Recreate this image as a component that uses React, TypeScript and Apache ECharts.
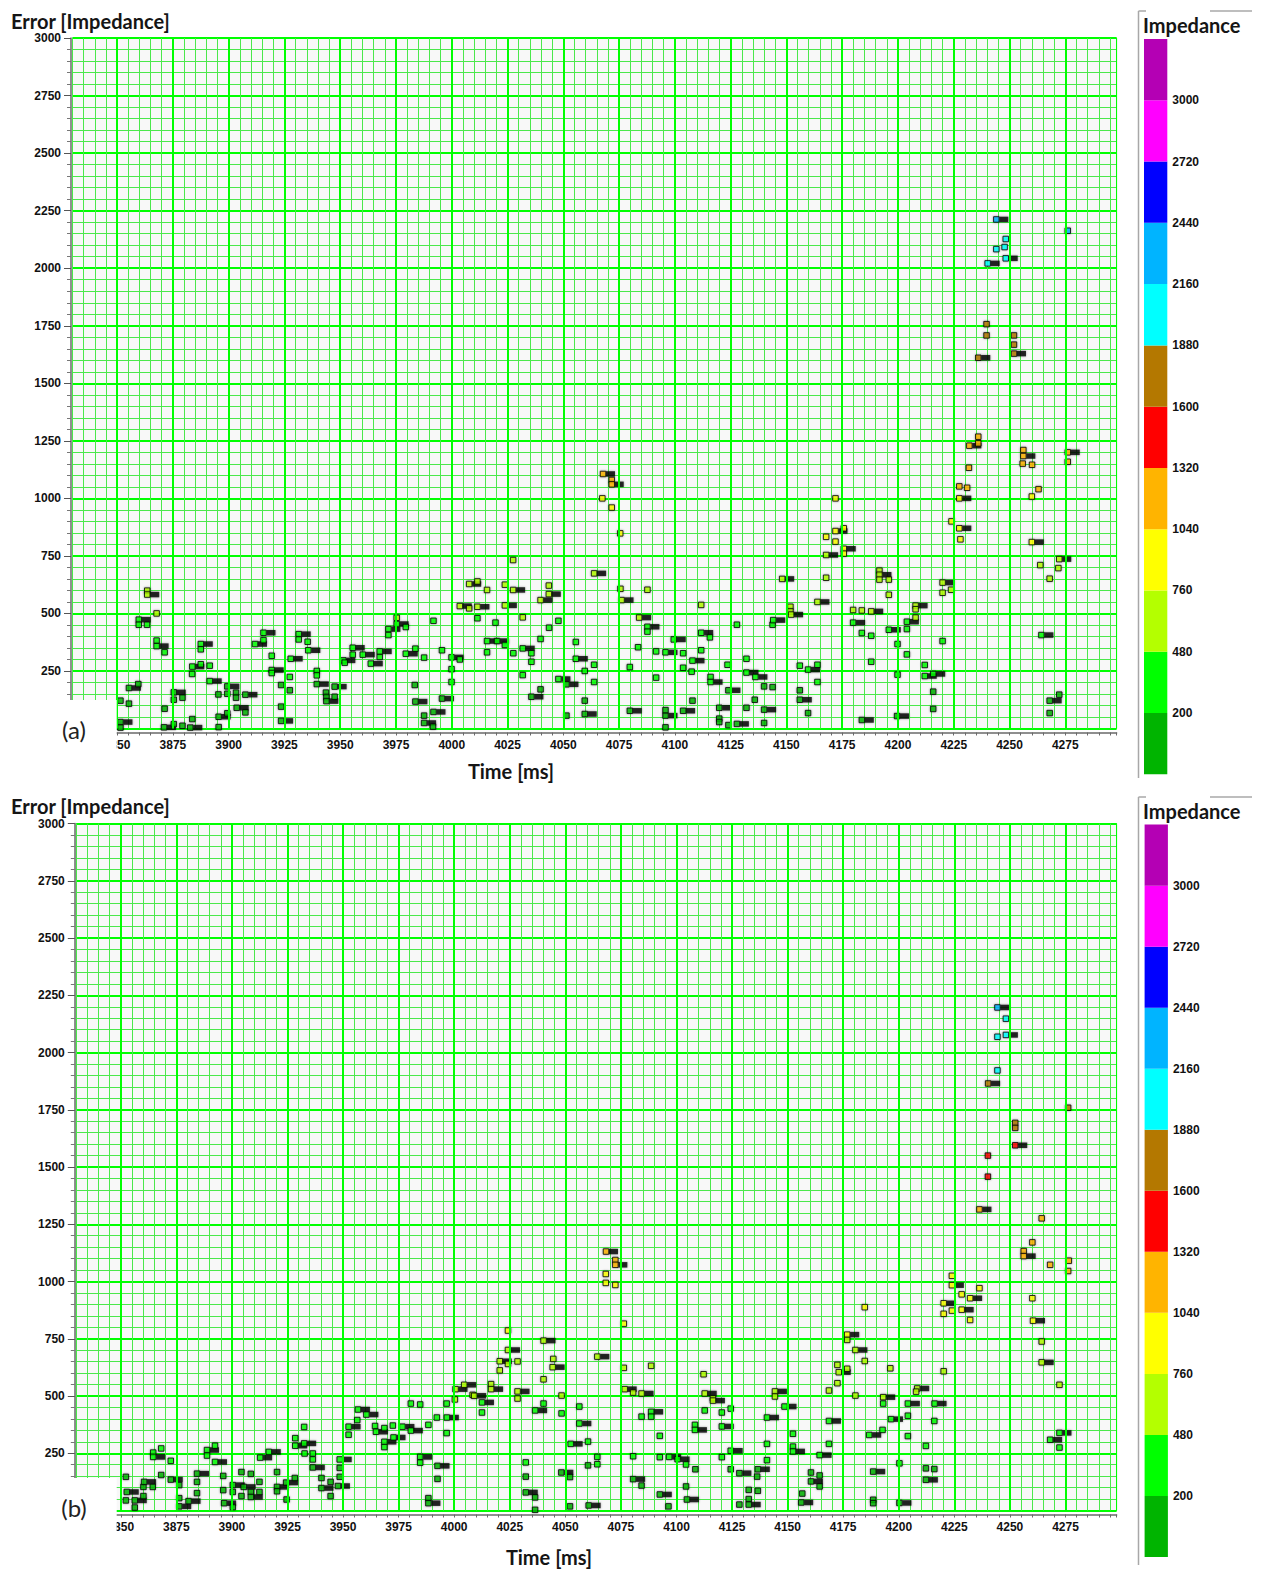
import React, { useEffect, useRef } from 'react';
import * as echarts from 'echarts';

// ---------- axis / legend definitions ----------
const TIME_MIN = 3830;
const TIME_MAX = 4298;
const majorTimeTicks = [3850, 3875, 3900, 3925, 3950, 3975, 4000, 4025, 4050, 4075, 4100, 4125, 4150, 4175, 4200, 4225, 4250, 4275];
const ERROR_MIN = 0;
const ERROR_MAX = 3000;
const colorBreaks = [200, 480, 760, 1040, 1320, 1600, 1880, 2160, 2440, 2720, 3000];
const colorbarMin = -80;
const colorbarMax = 3280;
const bandColors = ['#00b400', '#00ff00', '#b4ff00', '#ffff00', '#ffb400', '#ff0000', '#b47800', '#00ffff', '#00b4ff', '#0000ff', '#ff00ff', '#b400b4'];

// ---------- data: [time ms, error, flagged (black tag)] ----------
const errorA: [number, number, number][] = [
  [3863.5, 599, 0], [3863.5, 582, 1], [3867.7, 500, 0], [3859.7, 473, 1], [3859.7, 451, 0], [3863.4, 451, 0],
  [3867.7, 382, 0], [3867.7, 358, 1], [3871.3, 331, 0], [3915.6, 416, 1], [3911.8, 367, 1], [3915.6, 384, 0],
  [3931.4, 410, 1], [3931.4, 387, 0], [3935.4, 377, 0], [3935.7, 340, 1], [3887.5, 367, 1], [3887.5, 344, 0],
  [3883.7, 269, 1], [3887.5, 279, 0], [3891.5, 273, 0], [3883.6, 237, 0], [3919.3, 316, 0], [3927.8, 303, 1],
  [3919.3, 254, 1], [3919.3, 241, 0], [3923.5, 189, 0], [3927.4, 224, 0], [3927.4, 166, 0], [3923.5, 95, 0],
  [3923.5, 33, 1], [3891.5, 206, 1], [3895.4, 148, 0], [3899.4, 183, 1], [3899.4, 151, 0], [3903.3, 156, 0],
  [3903.3, 134, 0], [3907.5, 147, 1], [3903.6, 90, 1], [3907.5, 70, 0], [3899.4, 66, 0], [3895.5, 51, 1],
  [3895.5, 6, 0], [3875.4, 157, 1], [3879.3, 134, 0], [3875.4, 125, 0], [3871.3, 86, 0], [3883.7, 41, 0],
  [3875.4, 19, 0], [3871, 5, 1], [3879.3, 12, 0], [3882.8, 4, 1], [3855.3, 176, 1], [3859.5, 193, 0],
  [3851.5, 121, 0], [3855.3, 108, 0], [3851.5, 28, 1], [3851.5, 4, 0], [3939.5, 250, 0], [3939.5, 231, 0],
  [3939.5, 193, 1], [3943.6, 156, 0], [3947.5, 182, 1], [3943.8, 137, 0], [3943.8, 119, 1], [3947.5, 138, 0],
  [3951.4, 296, 1], [3952, 286, 0], [3955.6, 321, 0], [3955.6, 351, 1], [3960.1, 321, 1], [3963.7, 282, 1],
  [3967.7, 311, 0], [3967.7, 335, 1], [3971.6, 432, 1], [3971.6, 406, 0], [3975.3, 481, 0], [3975.3, 454, 1],
  [3979.4, 441, 0], [3979.4, 325, 1], [3983.7, 347, 0], [3987.6, 308, 0], [3983.4, 189, 0], [3983.7, 117, 1],
  [3987.6, 56, 0], [3987.6, 24, 1], [3991.8, 72, 1], [3995.6, 340, 0], [3995.6, 130, 1], [3991.8, 468, 0],
  [3991.6, 8, 0],
  [4067.8, 1106, 1], [4071.7, 1080, 0], [4071.7, 1061, 1], [4067.5, 1000, 0], [4071.7, 960, 0], [4075.5, 848, 0],
  [4027.5, 732, 0], [4063.8, 674, 1], [4007.8, 628, 1], [4011.5, 639, 0], [4015.8, 602, 0], [4023.8, 625, 0],
  [4027.5, 602, 1], [4043.5, 621, 0], [4043.5, 584, 1], [4039.8, 558, 1], [4003.6, 532, 1], [4007.8, 522, 0],
  [4011.5, 529, 1], [4023.8, 535, 1], [4011.5, 479, 0], [4031.8, 483, 0], [4019.6, 460, 0], [4047.8, 468, 0],
  [4043.6, 438, 0], [4015.8, 380, 1], [4020.3, 380, 1], [4023.8, 363, 0], [4015.8, 331, 0], [4027.6, 327, 0],
  [4031.8, 348, 1], [4035.7, 327, 0], [4035.7, 290, 0], [4031.8, 232, 0], [4039.8, 389, 0], [4055.6, 376, 0],
  [4055.6, 303, 1], [4059.6, 250, 0], [4063.8, 277, 0], [4063.8, 202, 0], [4047.8, 215, 1], [4051.4, 192, 1],
  [3999.9, 309, 1], [4003.6, 300, 0], [3999.9, 258, 0], [3999.9, 202, 0], [4035.7, 138, 1], [4039.8, 170, 0],
  [4059.6, 121, 0], [4051.4, 56, 0], [4059.6, 63, 1], [4079.8, 267, 0], [4079.8, 77, 1], [4075.6, 607, 0],
  [4076.1, 558, 1], [4087.7, 603, 0], [4084, 482, 1], [4087.7, 442, 1], [4087.7, 421, 0], [4083.5, 353, 0],
  [4091.6, 335, 0], [4095.8, 331, 1], [4099.5, 387, 1], [4103.7, 327, 0], [4107.9, 295, 1], [4103.7, 264, 0],
  [4107.5, 247, 0], [4091.6, 221, 0], [4107.9, 121, 0], [4103.7, 77, 1], [4095.8, 56, 1], [4095.8, 80, 0],
  [4095.8, 5, 0],
  [4172, 1000, 0], [4172, 858, 1], [4175.7, 870, 0], [4167.8, 833, 0], [4172, 812, 0], [4175.7, 781, 1],
  [4175.7, 760, 0], [4167.8, 754, 1], [4148.1, 650, 1], [4167.8, 655, 0], [4191.7, 686, 0], [4191.7, 668, 1],
  [4191.7, 647, 0], [4195.9, 647, 0], [4195.9, 581, 0], [4111.8, 537, 0], [4151.8, 529, 0], [4151.8, 509, 0],
  [4152.1, 495, 1], [4163.9, 550, 1], [4179.9, 515, 0], [4183.8, 513, 0], [4188, 509, 1], [4179.9, 460, 1],
  [4183.8, 415, 0], [4188, 403, 0], [4195.9, 429, 1], [4204, 464, 1], [4204, 432, 0], [4199.8, 367, 0],
  [4204, 322, 0], [4188, 290, 0], [4199.8, 234, 0], [4199.6, 54, 1], [4183.8, 37, 1], [4127.8, 451, 0],
  [4143.8, 451, 0], [4144.1, 471, 1], [4111.8, 416, 1], [4115.7, 396, 0], [4111.8, 340, 0], [4123.6, 277, 0],
  [4132.1, 303, 0], [4132.1, 243, 1], [4136.1, 224, 1], [4116, 224, 0], [4116, 202, 1], [4124, 166, 1],
  [4140, 183, 0], [4143.8, 180, 0], [4135.8, 125, 0], [4132.1, 90, 0], [4119.9, 90, 1], [4140, 82, 1],
  [4119.9, 43, 0], [4119.9, 28, 0], [4124, 15, 0], [4127.8, 20, 1], [4140, 24, 0], [4156, 273, 0],
  [4159.7, 256, 1], [4163.9, 277, 0], [4163.9, 202, 0], [4156, 166, 0], [4156, 125, 1], [4159.7, 67, 0],
  [4272.3, 736, 1], [4263.8, 710, 0], [4271.9, 697, 0], [4268, 651, 0], [4220, 634, 1], [4220, 590, 0],
  [4223.8, 603, 0], [4207.9, 534, 1], [4207.9, 518, 0], [4207.9, 482, 0], [4220, 380, 0], [4212, 276, 0],
  [4212, 228, 1], [4215.8, 237, 1], [4215.8, 160, 0], [4215.8, 85, 0], [4264.3, 406, 1], [4272.3, 147, 0],
  [4268, 121, 1], [4268, 67, 0],
  [4227.5, 1052, 0], [4231, 1046, 0], [4227.5, 1000, 1], [4224, 900, 0], [4227.5, 870, 1], [4228, 822, 0],
  [4263, 1040, 0], [4260, 1008, 0], [4260, 810, 1],
  [4244.1, 2212, 1], [4276.1, 2163, 0], [4248.3, 2127, 0], [4244.1, 2083, 0], [4247.8, 2092, 0], [4248.3, 2043, 1],
  [4240.2, 2021, 1], [4239.7, 1757, 0], [4239.7, 1708, 0], [4252, 1708, 0], [4252, 1668, 0], [4252, 1629, 1],
  [4236, 1611, 1], [4236, 1268, 0], [4236, 1239, 0], [4232, 1229, 1], [4231.8, 1133, 0], [4256.2, 1210, 0],
  [4256.2, 1184, 1], [4255.9, 1151, 0], [4260.1, 1146, 0], [4276.1, 1200, 1], [4276.1, 1159, 0],
];

const errorB: [number, number, number][] = [
  [3852.3, 147, 0], [3852.7, 81, 1], [3852.3, 44, 0], [3856.3, 44, 1], [3856.3, 13, 0], [3860.2, 103, 0],
  [3860.2, 63, 0], [3860.5, 125, 1], [3864.4, 103, 0], [3864.6, 253, 0], [3864.6, 234, 1], [3868.2, 271, 0],
  [3872.5, 217, 0], [3868.2, 155, 0], [3872.5, 135, 1], [3876.3, 111, 0], [3876.3, 54, 0], [3876.3, 18, 1],
  [3880.5, 41, 1], [3884.3, 161, 1], [3884.3, 125, 0], [3884.3, 76, 0], [3888.8, 264, 1], [3892.4, 283, 0],
  [3888.8, 240, 0], [3892.4, 212, 1], [3896.1, 151, 0], [3896.1, 89, 0], [3900.4, 111, 1], [3900.4, 81, 0],
  [3896.5, 32, 1], [3900.4, 15, 0], [3904.3, 168, 0], [3905.3, 103, 1], [3904.3, 63, 0], [3908.5, 160, 0],
  [3908.5, 81, 0], [3908.5, 59, 1], [3912.4, 125, 0], [3912.4, 81, 0], [3912.7, 231, 1], [3916.6, 256, 1],
  [3920.3, 168, 0], [3920.3, 103, 1], [3920.3, 84, 0], [3924.4, 122, 1], [3928.3, 142, 0], [3924.6, 48, 0],
  [3928.5, 316, 0], [3928.5, 283, 1], [3932.5, 365, 0], [3932.7, 249, 0], [3936.4, 249, 0], [3936.4, 223, 0],
  [3936.4, 188, 1], [3932.5, 293, 1], [3940.3, 142, 0], [3940.3, 98, 1], [3944.4, 125, 0], [3944.4, 63, 0],
  [3947.7, 107, 1], [3948.5, 223, 1], [3948.5, 186, 0], [3948.5, 147, 0], [3952.5, 366, 1], [3952.5, 331, 0],
  [3956.4, 395, 0], [3956.7, 441, 1], [3960.5, 419, 1], [3964.4, 369, 0], [3964.8, 344, 1], [3968.6, 360, 0],
  [3968.6, 300, 1], [3968.6, 277, 0], [3972.7, 319, 1], [3972.4, 371, 0], [3976.7, 366, 1], [3980.5, 349, 1],
  [3980.5, 467, 0], [3984.7, 463, 0], [3988.4, 374, 0], [3984.7, 234, 1], [3984.7, 209, 0], [3992.5, 195, 1],
  [3992.5, 138, 0], [3988.4, 54, 0], [3988.4, 32, 1], [3992.2, 406, 0], [3996.6, 467, 0], [3996.7, 406, 1],
  [3996.6, 338, 0], [4000.3, 485, 0], [4000.6, 530, 1], [4004.5, 549, 1], [4008.3, 505, 0], [4009, 501, 1],
  [4012.5, 472, 1], [4012.5, 428, 0], [4016.6, 552, 0], [4016.6, 530, 1], [4020.5, 652, 1], [4020.5, 612, 0],
  [4068.3, 1131, 1], [4072.5, 1094, 0], [4072.5, 1073, 1], [4068.2, 1033, 0], [4068.2, 994, 0], [4072.5, 985, 0],
  [4076.3, 816, 0], [4024.2, 786, 0], [4040.2, 742, 1], [4024.2, 701, 1], [4024.2, 640, 0], [4028.5, 651, 0],
  [4044.6, 662, 0], [4044.3, 626, 1], [4040.2, 573, 0], [4064.4, 672, 1], [4076.3, 623, 0], [4088.6, 632, 0],
  [4112.2, 595, 0], [4028.5, 520, 1], [4028.5, 489, 0], [4048.3, 502, 0], [4040.2, 467, 0], [4036.4, 437, 1],
  [4048.3, 424, 0], [4056.3, 454, 0], [4056.3, 380, 1], [4076.7, 530, 1], [4080.5, 515, 0], [4084.3, 511, 1],
  [4088.6, 431, 1], [4084.3, 410, 0], [4088.6, 410, 0], [4112.7, 511, 1], [4116.4, 490, 0], [4116.4, 480, 1],
  [4112.7, 437, 0], [4120.4, 428, 0], [4124.4, 445, 0], [4108.3, 374, 0], [4108.3, 352, 1], [4120.4, 367, 1],
  [4144.3, 520, 1], [4144.3, 498, 0], [4148.6, 454, 1], [4140.7, 406, 1], [4152.4, 335, 0], [4168.6, 391, 1],
  [4176.8, 768, 1], [4176.8, 745, 0], [4180.5, 701, 1], [4184.7, 888, 0], [4184.7, 653, 0], [4172.4, 636, 0],
  [4173, 604, 1], [4176.8, 619, 0], [4172.4, 556, 0], [4168.6, 524, 0], [4180.5, 502, 0], [4193, 495, 1],
  [4193, 467, 0], [4196.5, 399, 1], [4192.7, 352, 0], [4186.7, 330, 1], [4168.6, 291, 0], [4196.2, 621, 0],
  [4052.4, 291, 1], [4060.2, 301, 0], [4032.2, 210, 0], [4032.2, 148, 0], [4064.4, 234, 0], [4060.2, 197, 0],
  [4064.4, 202, 0], [4080.5, 237, 0], [4092.5, 326, 0], [4092.5, 233, 0], [4096.7, 234, 1], [4100.5, 224, 1],
  [4104.3, 201, 0], [4108.5, 180, 0], [4104.3, 105, 0], [4120.4, 233, 0], [4124.4, 261, 1], [4124.4, 180, 0],
  [4128.3, 163, 1], [4136.6, 180, 1], [4136.3, 148, 0], [4140.7, 291, 0], [4140.7, 220, 0], [4132.5, 90, 0],
  [4136.6, 86, 0], [4132.5, 50, 0], [4132.5, 26, 1], [4128.3, 26, 0], [4152.4, 279, 0], [4152.4, 258, 1],
  [4164.4, 242, 1], [4160.5, 166, 0], [4164.4, 153, 0], [4160.5, 127, 1], [4164.4, 105, 0], [4156.6, 74, 0],
  [4156.1, 35, 1], [4188.5, 170, 1], [4188.5, 47, 0], [4188.5, 32, 0], [4048.2, 166, 1], [4052.1, 146, 0],
  [4080.5, 137, 1], [4084.3, 109, 0], [4092.5, 70, 1], [4104.7, 48, 1], [4096.4, 18, 0], [4060.5, 22, 1],
  [4052.1, 18, 0], [4032.2, 79, 1], [4036.4, 57, 0], [4036.4, 3, 0],
  [4244.4, 2197, 1], [4248.2, 2148, 0], [4244.4, 2069, 0], [4248.2, 2077, 1], [4244.4, 1922, 0], [4240.2, 1865, 1],
  [4276.2, 1759, 0], [4252.4, 1693, 0], [4252.4, 1671, 0], [4252.4, 1595, 1], [4240.1, 1550, 0], [4240.1, 1458, 0],
  [4236.3, 1315, 1], [4264.3, 1276, 0], [4260.1, 1171, 0], [4256.2, 1133, 0], [4256.2, 1111, 1], [4268.1, 1073, 0],
  [4276.5, 1091, 0], [4276.2, 1046, 0], [4223.9, 1025, 0], [4223.9, 984, 1], [4236.3, 971, 0], [4228.3, 944, 0],
  [4232.1, 927, 1], [4220.2, 905, 1], [4220.2, 859, 0], [4223.9, 873, 0], [4228.3, 877, 1], [4232.1, 832, 0],
  [4260.1, 927, 0], [4260.4, 829, 1], [4264.3, 738, 0], [4264.3, 647, 1], [4272.3, 549, 0], [4220.2, 608, 0],
  [4208.3, 533, 1], [4207.8, 519, 0], [4204.1, 467, 1], [4216.1, 467, 1], [4204.1, 414, 0], [4216, 391, 0],
  [4204.1, 325, 0], [4212.2, 282, 0], [4200.3, 206, 0], [4212.2, 184, 0], [4216, 181, 0], [4212.2, 134, 1],
  [4200.3, 33, 1], [4272.3, 339, 1], [4268.1, 309, 1], [4272.3, 275, 0],
];

// ---------- layout (pixels) ----------
const FONT_NUM = '"Liberation Sans", Arial, sans-serif';
const FONT_TITLE = 'Lato, "Noto Sans", sans-serif';

const panels = [
  {
    data: errorA, tag: '(a)',
    grid: { left: 72.5, top: 38.1, width: 1044.1, height: 690.4 },
    bar: { left: 1144, top: 39, width: 23.3, height: 735.3 },
    titleY: 20.5, timeX: 511, timeY: 770.5, tagY: 729, box: [0, 700, 116.7, 62],
    legendTitleY: 25, frameTop: 11, frameBottom: 778,
  },
  {
    data: errorB, tag: '(b)',
    grid: { left: 76.3, top: 823.6, width: 1040.3, height: 686.9 },
    bar: { left: 1144.6, top: 824.6, width: 23.3, height: 732.4 },
    titleY: 806, timeX: 549, timeY: 1557, tagY: 1507, box: [0, 1478, 116.7, 62],
    legendTitleY: 810.5, frameTop: 797, frameBottom: 1565,
  },
];

function buildOption() {
  const grid: any[] = [];
  const xAxis: any[] = [];
  const yAxis: any[] = [];
  const series: any[] = [];
  const graphic: any[] = [];
  const pointSeries: number[] = [];

  panels.forEach((p) => {
    const g = grid.length;
    const xi = xAxis.length;
    const yi = yAxis.length;
    grid.push({ ...p.grid, show: true, backgroundColor: '#f8f8f8', borderColor: '#22ee22', borderWidth: 1 });
    xAxis.push({
      type: 'value', gridIndex: g, min: TIME_MIN, max: TIME_MAX, interval: 5, offset: 4,
      axisLine: { show: true, onZero: false, lineStyle: { color: '#6a6a6a', width: 1.5 } },
      axisTick: { show: true, length: 3, lineStyle: { color: '#6a6a6a', width: 1 } },
      axisLabel: {
        formatter: (v: number) => (majorTimeTicks.indexOf(v) >= 0 ? String(v) : ''),
        margin: 6, fontSize: 12, fontWeight: 'bold', color: '#111', fontFamily: FONT_NUM,
      },
      splitLine: { show: true, lineStyle: { color: ['#4be84b', '#4be84b', '#4be84b', '#4be84b', '#00ff00'], width: 1 } },
    });
    yAxis.push({
      type: 'value', gridIndex: g, min: ERROR_MIN, max: ERROR_MAX, interval: 250, offset: 1.5,
      axisLine: { show: true, onZero: false, lineStyle: { color: '#6a6a6a', width: 1.5 } },
      axisTick: { show: true, length: 7, lineStyle: { color: '#555', width: 1 } },
      minorTick: { show: true, splitNumber: 5, length: 4, lineStyle: { color: '#777', width: 1 } },
      axisLabel: { formatter: (v: number) => (v > ERROR_MIN ? String(v) : ''), margin: 10, fontSize: 12, fontWeight: 'bold', color: '#111', fontFamily: FONT_NUM },
      splitLine: { show: true, lineStyle: { color: '#00ff00', width: 2 } },
      minorSplitLine: { show: true, lineStyle: { color: '#4be84b', width: 1 } },
    });

    // major vertical grid lines
    series.push({
      type: 'line', xAxisIndex: xi, yAxisIndex: yi, data: [], z: 1, silent: true,
      markLine: {
        silent: true, symbol: ['none', 'none'], animation: false, label: { show: false },
        lineStyle: { color: '#00ff00', width: 2, type: 'solid' }, emphasis: { disabled: true },
        data: majorTimeTicks.map((v) => ({ xAxis: v })),
      },
    });
    // black tags beside flagged points
    series.push({
      type: 'scatter', xAxisIndex: xi, yAxisIndex: yi, z: 3, silent: true,
      data: p.data.filter((d) => d[2] === 1).map((d) => [d[0], d[1]]),
      symbol: 'rect', symbolSize: [9, 5.5], symbolOffset: [7.5, 0],
      itemStyle: { color: '#000', shadowBlur: 2, shadowColor: 'rgba(0,0,0,0.45)' },
    });
    // coloured points
    pointSeries.push(series.length);
    series.push({
      type: 'scatter', xAxisIndex: xi, yAxisIndex: yi, z: 4, silent: true,
      data: p.data.map((d) => [d[0], d[1]]),
      symbol: 'rect', symbolSize: 5.5,
      itemStyle: { borderColor: '#000', borderWidth: 1, shadowBlur: 2, shadowColor: 'rgba(0,0,0,0.45)' },
    });

    // colour bar
    const gb = grid.length;
    grid.push({ ...p.bar });
    const bx = xAxis.length;
    xAxis.push({ type: 'value', gridIndex: gb, min: 0, max: 1, show: false });
    const catIdx = yAxis.length;
    yAxis.push({ type: 'category', gridIndex: gb, data: bandColors.map((_, k) => String(k)), show: false });
    yAxis.push({
      type: 'value', gridIndex: gb, min: 0, max: bandColors.length, interval: 1, position: 'right',
      axisLine: { show: false }, axisTick: { show: false }, splitLine: { show: false },
      axisLabel: {
        formatter: (v: number) => (v >= 1 && v <= colorBreaks.length ? String(colorBreaks[v - 1]) : ''),
        margin: 5, fontSize: 12, fontWeight: 'bold', color: '#111', fontFamily: FONT_NUM, padding: [0, 0, 6, 0],
      },
    });
    series.push({
      type: 'bar', xAxisIndex: bx, yAxisIndex: catIdx, barCategoryGap: '0%', silent: true,
      data: bandColors.map((c) => ({ value: 1, itemStyle: { color: c } })),
    });

    // decorations
    graphic.push(
      { type: 'rect', z: 100, shape: { x: p.box[0], y: p.box[1], width: p.box[2], height: p.box[3] }, style: { fill: '#ffffff' } },
      { type: 'text', z: 101, x: 74, y: p.tagY, style: { text: p.tag, font: '24px ' + FONT_TITLE, fill: '#222', textAlign: 'center', textVerticalAlign: 'middle' } },
      { type: 'text', z: 101, x: 11, y: p.titleY, style: { text: 'Error [Impedance]', font: 'bold 20px ' + FONT_TITLE, fill: '#151515', textAlign: 'left', textVerticalAlign: 'middle' } },
      { type: 'text', z: 101, x: p.timeX, y: p.timeY, style: { text: 'Time [ms]', font: 'bold 20px ' + FONT_TITLE, fill: '#151515', textAlign: 'center', textVerticalAlign: 'middle' } },
      { type: 'text', z: 101, x: 1143, y: p.legendTitleY, style: { text: 'Impedance', font: 'bold 20px ' + FONT_TITLE, fill: '#151515', textAlign: 'left', textVerticalAlign: 'middle' } },
      { type: 'line', z: 101, shape: { x1: 1138.5, y1: p.frameTop, x2: 1138.5, y2: p.frameBottom }, style: { stroke: '#a8a8a8', lineWidth: 1.5 } },
      { type: 'line', z: 101, shape: { x1: 1138.5, y1: p.frameTop, x2: 1146, y2: p.frameTop }, style: { stroke: '#a8a8a8', lineWidth: 1.5 } },
      { type: 'line', z: 101, shape: { x1: 1210, y1: p.frameTop, x2: 1252, y2: p.frameTop }, style: { stroke: '#a8a8a8', lineWidth: 1.5 } },
    );
  });

  const pieces = bandColors.map((c, k) => ({
    gte: k === 0 ? colorbarMin : colorBreaks[k - 1],
    lt: k === bandColors.length - 1 ? colorbarMax : colorBreaks[k],
    color: c,
  }));

  return {
    animation: false,
    backgroundColor: '#ffffff',
    grid, xAxis, yAxis, series, graphic,
    visualMap: [{ type: 'piecewise', show: false, dimension: 1, seriesIndex: pointSeries, pieces }],
  };
}

export default function App() {
  const ref = useRef<HTMLDivElement>(null);
  useEffect(() => {
    if (!ref.current) return;
    const chart = echarts.init(ref.current, undefined, { renderer: 'svg' });
    chart.setOption(buildOption() as any);
    return () => chart.dispose();
  }, []);
  return <div ref={ref} style={{ position: 'fixed', left: 0, top: 0, width: 1262, height: 1573, background: '#fff' }} />;
}
